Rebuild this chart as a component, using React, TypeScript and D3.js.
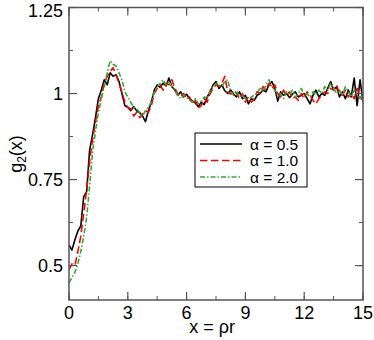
import React from 'react';
import * as d3 from 'd3';

// sampled every 0.15 in x = rho*r, from 0 to 15
const xStep = 0.15;

const gAlpha05 = [
  0.560, 0.545, 0.575, 0.600, 0.615, 0.700, 0.715, 0.835, 0.880, 0.930,
  0.985, 1.010, 1.040, 1.025, 1.060, 1.050, 1.055, 1.035, 1.000, 0.965,
  0.960, 0.950, 0.962, 0.950, 0.945, 0.935, 0.918, 0.950, 0.975, 1.010,
  1.025, 1.018, 1.030, 1.022, 1.045, 1.020, 1.010, 0.995, 1.005, 0.990,
  0.998, 0.985, 0.978, 0.972, 0.962, 0.975, 0.968, 0.990, 1.005, 1.025,
  1.035, 1.015, 1.025, 1.008, 1.000, 1.010, 0.998, 0.990, 1.005, 0.985,
  0.995, 0.970, 0.985, 0.980, 0.995, 1.000, 1.010, 1.005, 1.025, 1.035,
  1.015, 0.978, 1.005, 0.995, 1.000, 0.988, 0.998, 1.005, 0.990, 0.995,
  1.000, 0.985, 0.970, 0.995, 1.010, 0.990, 1.000, 0.995, 1.015, 1.035,
  1.010, 1.020, 0.990, 1.005, 0.985, 1.010, 0.990, 1.045, 0.965, 1.040,
  0.975,
];

const gAlpha10 = [
  0.488, 0.505, 0.500, 0.540, 0.585, 0.650, 0.720, 0.800, 0.865, 0.915,
  0.965, 0.990, 1.030, 1.050, 1.065, 1.075, 1.055, 1.030, 1.005, 0.975,
  0.960, 0.955, 0.935, 0.945, 0.930, 0.940, 0.950, 0.945, 0.965, 1.000,
  1.015, 1.025, 1.010, 1.030, 1.025, 1.040, 1.015, 1.000, 0.990, 1.000,
  0.985, 0.990, 0.970, 0.980, 0.958, 0.965, 0.985, 0.975, 1.000, 1.015,
  1.025, 1.020, 1.030, 1.050, 1.005, 0.998, 1.010, 1.000, 0.985, 1.000,
  0.975, 0.990, 0.975, 0.985, 1.005, 1.000, 1.020, 1.010, 1.030, 1.015,
  1.025, 1.000, 0.990, 1.010, 0.995, 1.005, 0.985, 0.990, 0.980, 1.000,
  0.985, 1.005, 0.995, 0.980, 0.970, 0.985, 0.995, 1.005, 1.000, 1.015,
  1.010, 1.025, 1.000, 0.995, 1.010, 0.990, 1.000, 0.985, 1.015, 0.990,
  0.980,
];

const gAlpha20 = [
  0.450, 0.465, 0.480, 0.505, 0.540, 0.585, 0.640, 0.730, 0.830, 0.890,
  0.945, 0.985, 1.020, 1.060, 1.095, 1.085, 1.080, 1.060, 1.040, 1.005,
  0.990, 0.975, 0.960, 0.955, 0.945, 0.935, 0.950, 0.960, 0.975, 1.005,
  1.020, 1.030, 1.040, 1.025, 1.035, 1.020, 1.010, 0.995, 0.985, 0.995,
  0.990, 0.980, 0.975, 0.985, 0.970, 0.978, 0.990, 0.985, 1.010, 1.020,
  1.030, 1.025, 1.020, 1.035, 1.040, 1.005, 0.995, 1.008, 0.990, 0.995,
  0.985, 0.978, 0.990, 0.995, 1.000, 1.015, 1.005, 1.025, 1.040, 1.020,
  1.010, 0.995, 1.000, 0.985, 1.005, 0.995, 1.010, 0.990, 1.000, 1.015,
  0.995, 1.000, 0.990, 1.005, 0.995, 1.010, 1.000, 1.020, 1.010, 1.030,
  1.015, 1.000, 1.010, 0.995, 1.020, 1.005, 0.990, 1.010, 1.000, 0.985,
  0.990,
];

const xTicks = [0, 3, 6, 9, 12, 15];
const yTicks = [0.5, 0.75, 1, 1.25];
const yTickLabels = ['0.5', '0.75', '1', '1.25'];

const seriesLabels = ['α = 0.5', 'α = 1.0', 'α = 2.0'];

const W = 374;
const H = 340;
const margin = { top: 7.5, right: 11, bottom: 40, left: 69 };
const font = '"Liberation Sans", Arial, sans-serif';

const styles = [
  { color: '#000000', dash: undefined as string | undefined, width: 1.6 },
  { color: '#ff0000', dash: '7.5,3.5', width: 1.6 },
  { color: '#33a833', dash: '5,2,1.5,2', width: 1.6 },
];

export default function App() {
  const x = d3.scaleLinear().domain([0, 15]).range([margin.left, W - margin.right]);
  const y = d3.scaleLinear().domain([0.4, 1.25]).range([H - margin.bottom, margin.top]);

  const line = d3
    .line<number>()
    .x((_, i) => x(i * xStep))
    .y((d) => y(d));

  const all = [gAlpha05, gAlpha10, gAlpha20];

  const xMinor = d3.range(0, 15.001, 1.5);
  const yMinor = d3.range(0.5, 1.2501, 0.125);

  const x0 = x(0), x1 = x(15), y0 = y(0.4), y1 = y(1.25);
  const axisColor = '#555';

  // legend box
  const lg = { x: 195, y: 133, w: 112, h: 54 };

  return (
    <svg
      width={W}
      height={H}
      style={{ position: 'absolute', left: 0, top: 0, background: '#fff' }}
      fontFamily={font}
    >
      <defs>
        <clipPath id="plot">
          <rect x={x0} y={y1} width={x1 - x0} height={y0 - y1} />
        </clipPath>
      </defs>

      {/* data */}
      <g clipPath="url(#plot)">
        {all.map((s, k) => (
          <path
            key={k}
            d={line(s) || ''}
            fill="none"
            stroke={styles[k].color}
            strokeWidth={styles[k].width}
            strokeDasharray={styles[k].dash}
            strokeLinejoin="round"
          />
        ))}
      </g>

      {/* frame */}
      <rect x={x0} y={y1} width={x1 - x0} height={y0 - y1} fill="none" stroke={axisColor} strokeWidth={1.5} />

      {/* minor ticks */}
      {xMinor.map((t) => (
        <g key={'xm' + t} stroke={axisColor} strokeWidth={1}>
          <line x1={x(t)} x2={x(t)} y1={y0} y2={y0 - 4} />
          <line x1={x(t)} x2={x(t)} y1={y1} y2={y1 + 4} />
        </g>
      ))}
      {yMinor.map((t) => (
        <g key={'ym' + t} stroke={axisColor} strokeWidth={1}>
          <line x1={x0} x2={x0 + 4} y1={y(t)} y2={y(t)} />
          <line x1={x1} x2={x1 - 4} y1={y(t)} y2={y(t)} />
        </g>
      ))}

      {/* major ticks and labels */}
      {xTicks.map((t) => (
        <g key={'x' + t}>
          <line x1={x(t)} x2={x(t)} y1={y0} y2={y0 - 8} stroke={axisColor} strokeWidth={1.2} />
          <line x1={x(t)} x2={x(t)} y1={y1} y2={y1 + 8} stroke={axisColor} strokeWidth={1.2} />
          <text x={x(t)} y={318.5} textAnchor="middle" fontSize={18}>
            {t}
          </text>
        </g>
      ))}
      {yTicks.map((t, i) => (
        <g key={'y' + t}>
          <line x1={x0} x2={x0 + 8} y1={y(t)} y2={y(t)} stroke={axisColor} strokeWidth={1.2} />
          <line x1={x1} x2={x1 - 8} y1={y(t)} y2={y(t)} stroke={axisColor} strokeWidth={1.2} />
          <text x={63} y={Math.max(y(t) + 6.5, 16.5)} textAnchor="end" fontSize={18}>
            {yTickLabels[i]}
          </text>
        </g>
      ))}

      {/* axis titles */}
      <text x={212} y={333} textAnchor="middle" fontSize={18}>
        x = ρr
      </text>
      <text transform="translate(22,154) rotate(-90)" textAnchor="middle" fontSize={18}>
        g<tspan fontSize={12} dy={4}>2</tspan>
        <tspan dy={-4}>(x)</tspan>
      </text>

      {/* legend */}
      <rect x={lg.x} y={lg.y} width={lg.w} height={lg.h} fill="#fff" stroke="#000" strokeWidth={1} />
      {seriesLabels.map((label, k) => {
        const cy = 144 + k * 16.5;
        return (
          <g key={label}>
            <line
              x1={200}
              x2={242}
              y1={cy}
              y2={cy}
              stroke={styles[k].color}
              strokeWidth={styles[k].width}
              strokeDasharray={styles[k].dash}
            />
            <text x={250} y={cy + 5.5} fontSize={15.5}>
              {label}
            </text>
          </g>
        );
      })}
    </svg>
  );
}
